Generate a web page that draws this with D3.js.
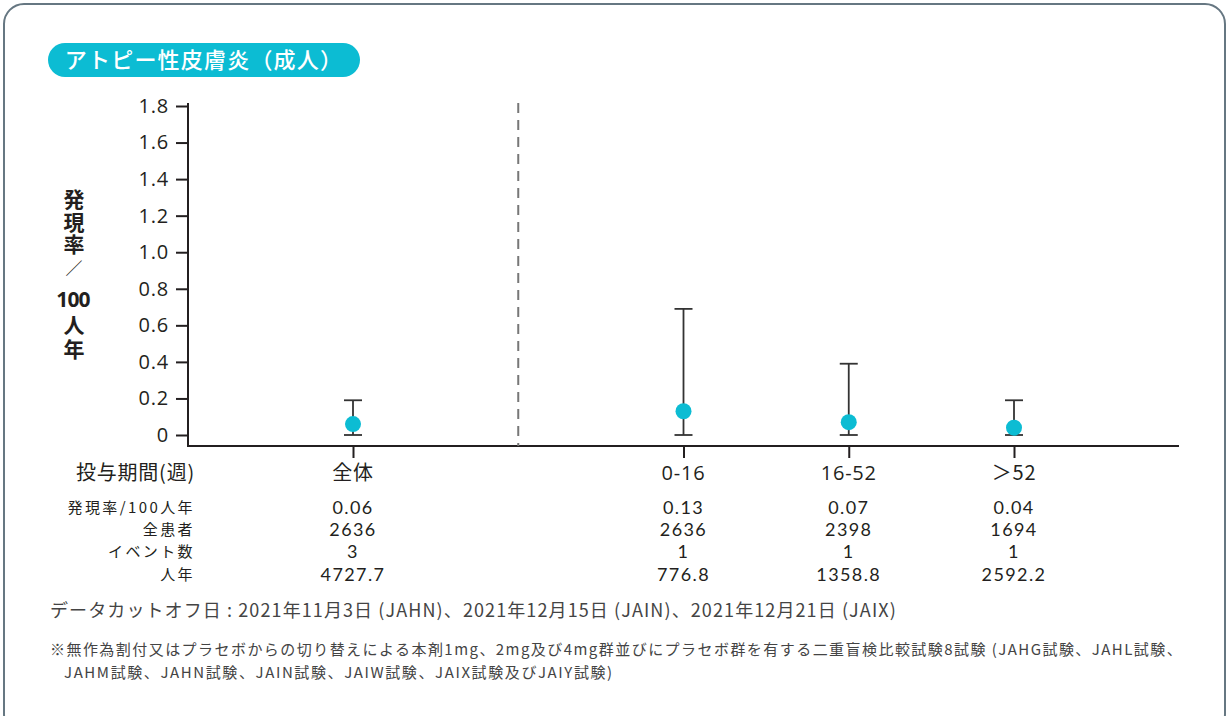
<!DOCTYPE html>
<html><head><meta charset="utf-8">
<script src="https://cdn.jsdelivr.net/npm/d3@7"></script>
<style>
html,body{margin:0;padding:0;background:#fff;}
svg{display:block;}
text{font-family:"Open Sans","Noto Sans CJK JP",sans-serif;fill:#231f20;}
.jp{font-family:"Noto Sans CJK JP",sans-serif;}
.num{font-family:"Lato",sans-serif;}
</style></head>
<body>
<svg id="chart" width="1229" height="716"></svg>
<script>
// ---- data ----
const categories = ["全体", "0-16", "16-52", "＞52"];
const rates = [0.06, 0.13, 0.07, 0.04];
const ciLower = [0, 0, 0, 0];
const ciUpper = [0.19, 0.69, 0.39, 0.19];
const patients = ["2636", "2636", "2398", "1694"];
const events = ["3", "1", "1", "1"];
const personYears = ["4727.7", "776.8", "1358.8", "2592.2"];
const rateLabels = ["0.06", "0.13", "0.07", "0.04"];
const yTicks = [0, 0.2, 0.4, 0.6, 0.8, 1.0, 1.2, 1.4, 1.6, 1.8];
const yTickLabels = ["0", "0.2", "0.4", "0.6", "0.8", "1.0", "1.2", "1.4", "1.6", "1.8"];
const rowLabels = ["発現率/100人年", "全患者", "イベント数", "人年"];
const title = "アトピー性皮膚炎（成人）";
const yTitleTop = "発現率";
const yTitleSlash = "／";
const yTitleNum = "100";
const yTitleBottom = "人年";
const xTitle = "投与期間(週)";
const note1 = "データカットオフ日 : 2021年11月3日 (JAHN)、2021年12月15日 (JAIN)、2021年12月21日 (JAIX)";
const note2 = "※無作為割付又はプラセボからの切り替えによる本剤1mg、2mg及び4mg群並びにプラセボ群を有する二重盲検比較試験8試験 (JAHG試験、JAHL試験、";
const note3 = "JAHM試験、JAHN試験、JAIN試験、JAIW試験、JAIX試験及びJAIY試験)";

const svg = d3.select("#chart");
const accent = "#0cbcd3";
const ink = "#231f20";

// frame
svg.append("rect").attr("x", 4).attr("y", 4).attr("width", 1221).attr("height", 730)
  .attr("rx", 20).attr("fill", "#fff").attr("stroke", "#667782").attr("stroke-width", 2);

// title badge
svg.append("rect").attr("x", 48).attr("y", 43).attr("width", 312).attr("height", 34)
  .attr("rx", 17).attr("fill", accent);
svg.append("text").attr("class", "jp").attr("x", 204).attr("y", 60).attr("dy", "0.36em")
  .attr("text-anchor", "middle")
  .style("fill", "#fff").style("font-size", "22px").style("font-weight", 500)
  .style("letter-spacing", "1.2px").text(title);

// scales
const slots = [categories[0], "__sep__", ...categories.slice(1)];
const x = d3.scalePoint().domain(slots).range([353, 1014]);
const y = d3.scaleLinear().domain([0, 1.8]).range([435, 106]);
const axisX0 = 188, baseY = 446;

// y axis
const yAxis = d3.axisLeft(y).tickValues(yTicks)
  .tickFormat((d, i) => yTickLabels[i]).tickSize(12).tickPadding(7);
const gy = svg.append("g").attr("transform", `translate(${axisX0},0)`).call(yAxis);
gy.select(".domain").remove();
gy.selectAll(".tick line").attr("stroke", ink).attr("stroke-width", 2);
gy.selectAll(".tick text").style("font-size", "20px").style("fill", ink)
  .style("letter-spacing", "0.8px")
  .style("font-family", "'Open Sans',sans-serif");
svg.append("line").attr("x1", axisX0).attr("x2", axisX0).attr("y1", 103).attr("y2", baseY + 1)
  .attr("stroke", ink).attr("stroke-width", 2);

// x axis baseline
svg.append("line").attr("x1", axisX0).attr("x2", 1179).attr("y1", baseY).attr("y2", baseY)
  .attr("stroke", ink).attr("stroke-width", 2);
const xAxis = d3.axisBottom(x).tickValues(categories).tickSize(12).tickFormat("");
const gx = svg.append("g").attr("transform", `translate(0,${baseY})`).call(xAxis);
gx.select(".domain").remove();
gx.selectAll(".tick line").attr("stroke", ink).attr("stroke-width", 2);

// separator dashed line
svg.append("line").attr("x1", x("__sep__")).attr("x2", x("__sep__")).attr("y1", 103).attr("y2", baseY)
  .attr("stroke", "#777").attr("stroke-width", 2).attr("stroke-dasharray", "10,7");

// error bars
const capW = 9;
const eb = svg.append("g").selectAll("g").data(categories).join("g");
eb.append("line").attr("x1", d => x(d)).attr("x2", d => x(d))
  .attr("y1", (d, i) => y(ciUpper[i])).attr("y2", (d, i) => y(ciLower[i]))
  .attr("stroke", "#333").attr("stroke-width", 1.8);
eb.append("line").attr("x1", d => x(d) - capW).attr("x2", d => x(d) + capW)
  .attr("y1", (d, i) => y(ciUpper[i])).attr("y2", (d, i) => y(ciUpper[i]))
  .attr("stroke", "#333").attr("stroke-width", 1.8);
eb.append("line").attr("x1", d => x(d) - capW).attr("x2", d => x(d) + capW)
  .attr("y1", (d, i) => y(ciLower[i])).attr("y2", (d, i) => y(ciLower[i]))
  .attr("stroke", "#333").attr("stroke-width", 1.8);
eb.append("circle").attr("cx", d => x(d)).attr("cy", (d, i) => y(rates[i])).attr("r", 8)
  .attr("fill", accent);

// y title (vertical, with horizontal "100")
const yTitleX = 74;
svg.append("text").attr("class", "jp").attr("x", yTitleX).attr("y", 189)
  .style("writing-mode", "vertical-rl").style("font-size", "21px").style("font-weight", 700)
  .style("letter-spacing", "1.5px").text(yTitleTop);
svg.append("text").attr("class", "jp").attr("x", yTitleX).attr("y", 269).attr("dy", "0.35em")
  .attr("text-anchor", "middle").style("font-size", "17px").style("font-weight", 400)
  .text(yTitleSlash);
svg.append("text").attr("x", yTitleX - 1).attr("y", 300).attr("dy", "0.35em")
  .attr("text-anchor", "middle").style("font-size", "21px").style("font-weight", 700)
  .style("letter-spacing", "-0.8px").text(yTitleNum);
svg.append("text").attr("class", "jp").attr("x", yTitleX).attr("y", 315)
  .style("writing-mode", "vertical-rl").style("font-size", "21px").style("font-weight", 700)
  .style("letter-spacing", "3px").text(yTitleBottom);

// x labels
svg.append("text").attr("class", "jp").attr("x", 195).attr("y", 473).attr("dy", "0.35em")
  .attr("text-anchor", "end").style("font-size", "20px").style("letter-spacing", "0.8px").text(xTitle);
svg.append("g").selectAll("text").data(categories).join("text")
  .attr("class", d => /^[0-9]/.test(d) ? null : "jp")
  .attr("x", d => x(d)).attr("y", 473).attr("dy", "0.35em").attr("text-anchor", "middle")
  .style("font-size", "20px").style("letter-spacing", "0.8px").text(d => d);

// table
const rows = [rateLabels, patients, events, personYears];
const rowY = [508, 530, 552, 575];
rows.forEach((vals, r) => {
  svg.append("text").attr("class", "jp").attr("x", 195).attr("y", rowY[r]).attr("dy", "0.35em")
    .attr("text-anchor", "end").style("font-size", "15px").style("letter-spacing", "2.4px").text(rowLabels[r]);
  svg.append("g").selectAll("text").data(categories).join("text").attr("class", "num")
    .attr("x", d => x(d)).attr("y", rowY[r]).attr("dy", "0.35em").attr("text-anchor", "middle")
    .style("font-size", "18px").style("letter-spacing", "1.4px").text((d, i) => vals[i]);
});

// notes
svg.append("text").attr("class", "jp").attr("x", 50).attr("y", 611).attr("dy", "0.35em")
  .style("font-size", "18px").style("letter-spacing", "1.1px").style("fill", "#444").text(note1);
svg.append("text").attr("class", "jp").attr("x", 50).attr("y", 650).attr("dy", "0.35em")
  .style("font-size", "15px").style("letter-spacing", "1.45px").style("fill", "#444").text(note2);
svg.append("text").attr("class", "jp").attr("x", 64).attr("y", 673).attr("dy", "0.35em")
  .style("font-size", "15px").style("letter-spacing", "1.6px").style("fill", "#444").text(note3);
</script>
</body></html>
